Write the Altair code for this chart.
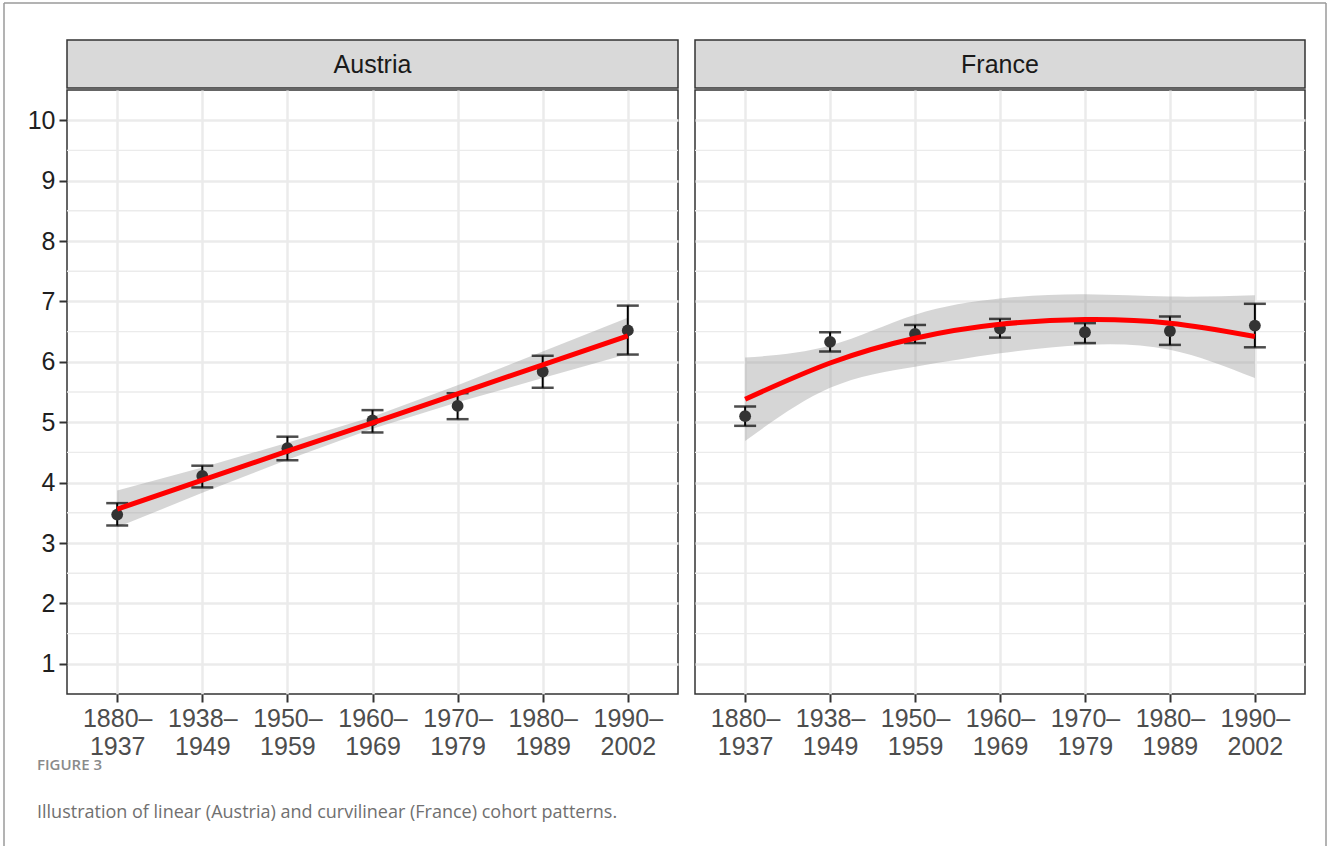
import altair as alt
import pandas as pd

# Birth cohorts shown on the x axis of both panels
cohorts = ["1880–1937", "1938–1949", "1950–1959", "1960–1969",
           "1970–1979", "1980–1989", "1990–2002"]

# Austria: cohort means with error bars, and the fitted trend with its band
austria_mean = [3.47, 4.11, 4.57, 5.03, 5.27, 5.84, 6.52]
austria_lo = [3.29, 3.92, 4.37, 4.83, 5.05, 5.57, 6.12]
austria_hi = [3.66, 4.28, 4.76, 5.20, 5.48, 6.10, 6.93]
austria_fit = [3.56, 4.04, 4.52, 4.99, 5.47, 5.95, 6.43]
austria_fit_lo = [3.26, 3.83, 4.38, 4.89, 5.33, 5.73, 6.13]
austria_fit_hi = [3.87, 4.25, 4.66, 5.09, 5.61, 6.17, 6.73]

# France: cohort means with error bars, and the fitted curve with its band
france_mean = [5.10, 6.33, 6.46, 6.55, 6.49, 6.51, 6.60]
france_lo = [4.94, 6.17, 6.31, 6.40, 6.31, 6.28, 6.24]
france_hi = [5.26, 6.49, 6.61, 6.71, 6.64, 6.75, 6.96]
france_fit = [5.38, 5.98, 6.39, 6.62, 6.70, 6.64, 6.42]
france_fit_lo = [4.69, 5.57, 5.92, 6.14, 6.28, 6.20, 5.73]
france_fit_hi = [6.07, 6.27, 6.78, 7.05, 7.12, 7.08, 7.10]

y_ticks = [1, 2, 3, 4, 5, 6, 7, 8, 9, 10]
y_minor = [1.5, 2.5, 3.5, 4.5, 5.5, 6.5, 7.5, 8.5, 9.5]

caption_head = "FIGURE 3"
caption_text = "Illustration of linear (Austria) and curvilinear (France) cohort patterns."

FONT = "Liberation Sans"
LABEL_SIZE = 25
PANEL_W = [611, 610]
PANEL_H = 604
STRIP_H = 48
GAP = 13
Y_EXTENT = 45
X_EXTENT = 70
PAD_LEFT = 3
PAD_TOP = 2
# where the first panel sits on the page
PANEL_X0 = 67
PANEL_Y0 = 40


def panel(name, mean, lo, hi, fit, fit_lo, fit_hi, width, show_y, interp):
    df = pd.DataFrame({
        "cohort": cohorts, "mean": mean, "lo": lo, "hi": hi,
        "fit": fit, "fit_lo": fit_lo, "fit_hi": fit_hi,
    })
    minor_df = pd.DataFrame({"minor": y_minor})

    x_axis = alt.Axis(
        title=None, labelAngle=0, labelFontSize=LABEL_SIZE, labelColor="#4d4d4d",
        labelFont=FONT, labelLineHeight=28, labelPadding=4,
        labelExpr="[split(datum.label, '–')[0] + '–', split(datum.label, '–')[1]]",
        tickColor="#333333", tickSize=8, tickWidth=2, domain=False,
        grid=True, gridColor="#ebebeb", gridWidth=2.5,
        minExtent=X_EXTENT, maxExtent=X_EXTENT,
    )
    if show_y:
        y_axis = alt.Axis(
            title=None, values=y_ticks, format="d",
            labelFontSize=LABEL_SIZE, labelColor="#1f1f1f", labelFont=FONT,
            labelPadding=4, tickColor="#333333", tickSize=8, tickWidth=2,
            domain=False, gridColor="#ebebeb", gridWidth=2.5,
            minExtent=Y_EXTENT, maxExtent=Y_EXTENT,
        )
    else:
        y_axis = alt.Axis(
            title=None, values=y_ticks, labels=False, ticks=False, domain=False,
            gridColor="#ebebeb", gridWidth=2.5, minExtent=0, maxExtent=0,
        )

    x = alt.X("cohort:N", sort=cohorts, axis=x_axis,
              scale=alt.Scale(type="point", padding=0.59))
    y_scale = alt.Scale(domain=[0.5, 10.5], nice=False, zero=False)

    minor = alt.Chart(minor_df).mark_rule(color="#ebebeb", strokeWidth=1.4).encode(
        y=alt.Y("minor:Q", scale=y_scale, axis=y_axis))

    base = alt.Chart(df)
    band = base.mark_area(color="#999999", opacity=0.4, interpolate=interp).encode(
        x=x, y=alt.Y("fit_lo:Q", scale=y_scale), y2="fit_hi:Q")
    bars = base.mark_rule(color="#000000", strokeWidth=2).encode(
        x=x, y=alt.Y("lo:Q", scale=y_scale), y2="hi:Q")
    caps_lo = base.mark_tick(color="#000000", size=22, thickness=2.5).encode(
        x=x, y=alt.Y("lo:Q", scale=y_scale))
    caps_hi = base.mark_tick(color="#000000", size=22, thickness=2.5).encode(
        x=x, y=alt.Y("hi:Q", scale=y_scale))
    points = base.mark_circle(color="#333333", opacity=1, size=140).encode(
        x=x, y=alt.Y("mean:Q", scale=y_scale))
    line = base.mark_line(color="#ff0000", strokeWidth=5, interpolate=interp).encode(
        x=x, y=alt.Y("fit:Q", scale=y_scale))

    body = alt.layer(minor, band, bars, caps_lo, caps_hi, points, line).properties(
        width=width, height=PANEL_H,
        view=alt.ViewBackground(fill="white", stroke="#333333", strokeWidth=1.5),
    )

    strip = alt.Chart(pd.DataFrame({"country": [name]})).mark_text(
        fontSize=LABEL_SIZE, color="#1a1a1a", font=FONT, baseline="middle", align="center"
    ).encode(
        text="country:N", x=alt.value(width / 2), y=alt.value(STRIP_H / 2 + 1)
    ).properties(
        width=width, height=STRIP_H,
        view=alt.ViewBackground(fill="#d9d9d9", stroke="#333333", strokeWidth=1.5),
    )
    return alt.vconcat(strip, body, spacing=0)


austria = panel("Austria", austria_mean, austria_lo, austria_hi, austria_fit,
                austria_fit_lo, austria_fit_hi, PANEL_W[0], True, "linear")
france = panel("France", france_mean, france_lo, france_hi, france_fit,
               france_fit_lo, france_fit_hi, PANEL_W[1], False, "natural")

panels = alt.hconcat(austria, france, spacing=GAP)

# Caption block under the panels; its origin sits at the left edge of the first panel
cap_w = PANEL_W[0] + GAP + PANEL_W[1]
cap_top = PANEL_Y0 + STRIP_H + PANEL_H + X_EXTENT
cap_df = pd.DataFrame({"head": [caption_head], "text": [caption_text]})
cap_base = alt.Chart(cap_df)
cap_head = cap_base.mark_text(
    font="Open Sans", fontSize=15, fontWeight=600, color="#8a8a8a",
    align="left", baseline="middle"
).encode(text="head:N", x=alt.value(37 - PANEL_X0), y=alt.value(3))
cap_body = cap_base.mark_text(
    font="Open Sans", fontSize=18, color="#707070", align="left", baseline="middle"
).encode(text="text:N", x=alt.value(37 - PANEL_X0), y=alt.value(51))

# Thin page frame: left, top and right edges around the figure
fx0, fx1 = 4 - PANEL_X0, 1326 - PANEL_X0
fy0, fy1 = 3 - cap_top, 846 - cap_top
frame_style = dict(color="#9a9a9a", strokeWidth=1.5)
frame_left = cap_base.mark_rule(**frame_style).encode(
    x=alt.value(fx0), y=alt.value(fy0), y2=alt.value(fy1))
frame_right = cap_base.mark_rule(**frame_style).encode(
    x=alt.value(fx1), y=alt.value(fy0), y2=alt.value(fy1))
frame_top = cap_base.mark_rule(**frame_style).encode(
    x=alt.value(fx0), x2=alt.value(fx1), y=alt.value(fy0))

caption = alt.layer(frame_left, frame_right, frame_top, cap_head, cap_body).properties(
    width=cap_w, height=76,
    view=alt.ViewBackground(fill="white", strokeOpacity=0),
)

# With "flush" stacking the nested panel row contributes no height of its own,
# so the caption is pushed down by the strip, the panel and the axis band.
chart = alt.vconcat(
    panels, caption, spacing=STRIP_H + PANEL_H + X_EXTENT, bounds="flush"
).properties(
    padding={"left": PAD_LEFT, "top": PAD_TOP, "right": 0, "bottom": 0},
    background="white",
).configure_view(stroke="#333333")

chart.save("out.html", embed_options={"renderer": "svg", "actions": False})
